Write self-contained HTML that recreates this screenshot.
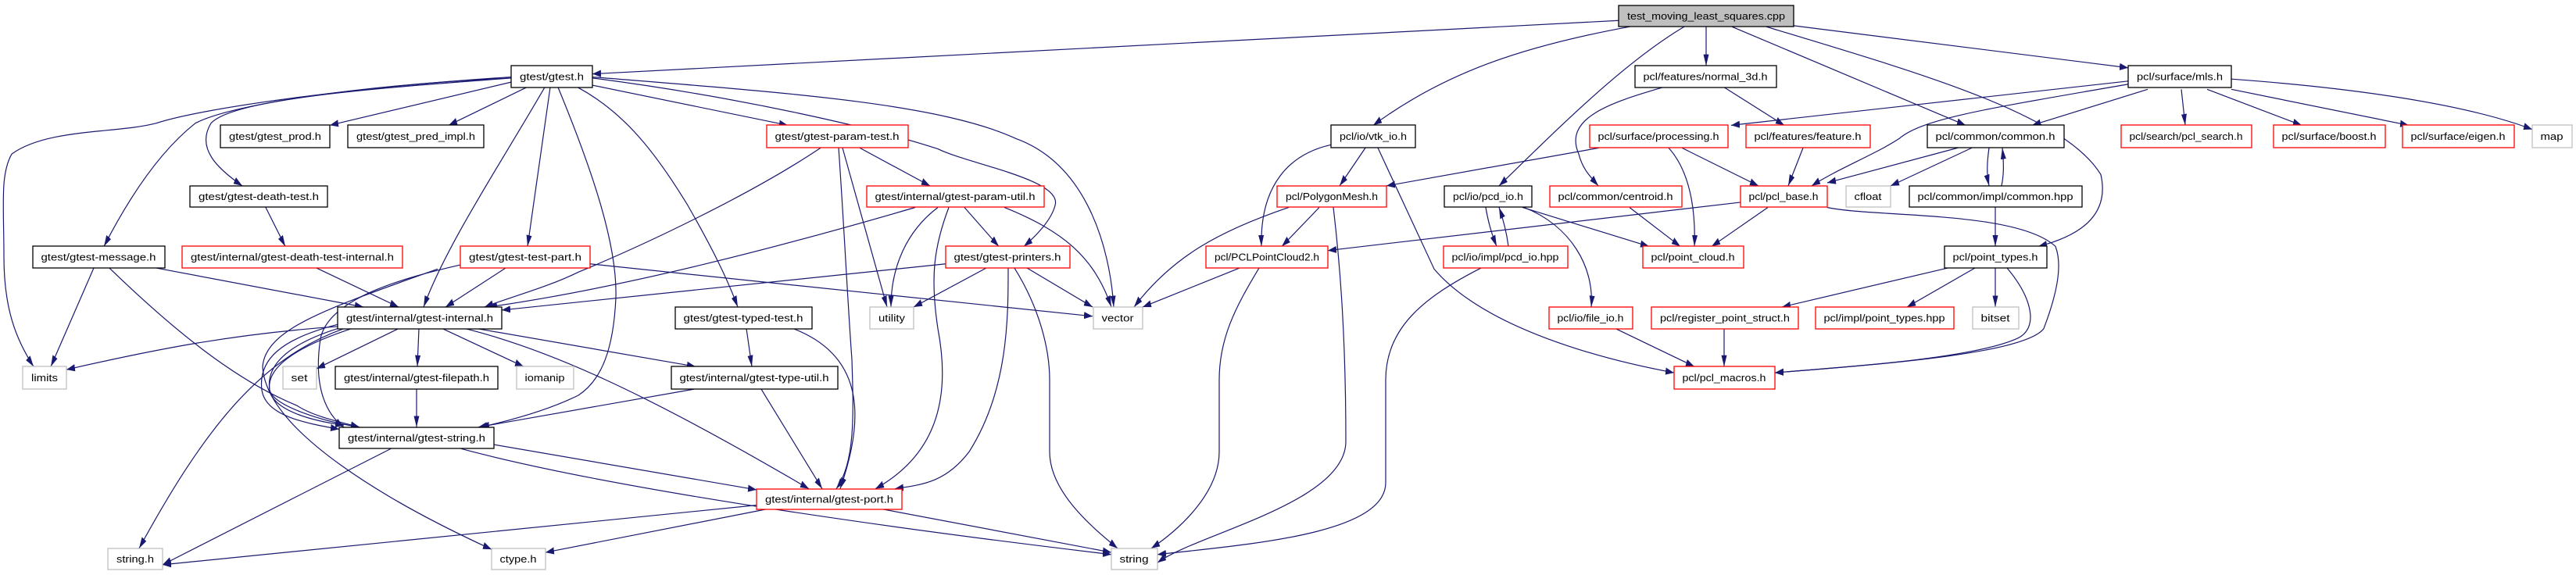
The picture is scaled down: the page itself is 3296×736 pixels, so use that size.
<!DOCTYPE html>
<html><head><meta charset="utf-8"><style>
html,body{margin:0;padding:0;background:#fff;}
svg{display:block;}
text{font-family:"Liberation Sans","DejaVu Sans",sans-serif;font-size:13px;fill:#000;}
.e{fill:none;stroke:#191970;stroke-width:1.2;marker-end:url(#a);vector-effect:non-scaling-stroke;}
.b{fill:#fff;stroke:#000;stroke-width:1.3;}
.r{fill:#fff;stroke:#ff0000;stroke-width:1.3;}
.g{fill:#fff;stroke:#bfbfbf;stroke-width:1.3;}
</style></head><body>
<svg width="3296" height="736" viewBox="0 0 3296 736" xmlns="http://www.w3.org/2000/svg">
<defs><marker id="a" markerUnits="userSpaceOnUse" markerWidth="12" markerHeight="8" refX="11" refY="3.5" orient="auto"><path d="M0,0 L11,3.5 L0,7 z" fill="#191970"/></marker></defs>
<g transform="scale(1,1.3143)">
<path class="e" d="M2071,20 L758,72"/>
<path class="e" d="M2085,26 C1950,45 1850,70 1757,122"/>
<path class="e" d="M2155,26 C2080,60 2000,120 1918,181"/>
<path class="e" d="M2183,26 L2183,64"/>
<path class="e" d="M2216,26 L2515,122"/>
<path class="e" d="M2260,26 C2450,70 2640,110 2688,170 C2700,210 2660,230 2608,240"/>
<path class="e" d="M2295,25 L2723,66"/>
<path class="e" d="M2206,85 L2283,122"/>
<path class="e" d="M2128,85 C2060,100 2000,115 2020,150 C2025,165 2035,172 2045,181"/>
<path class="e" d="M2723,79 L2215,122"/>
<path class="e" d="M2723,82 C2550,105 2460,115 2430,135 C2400,150 2350,165 2318,181"/>
<path class="e" d="M2748,87 L2600,122"/>
<path class="e" d="M2791,87 L2796,122"/>
<path class="e" d="M2824,87 L2945,122"/>
<path class="e" d="M2855,87 L3082,122"/>
<path class="e" d="M2855,77 C3000,85 3150,100 3240,126"/>
<path class="e" d="M2046,144 L1774,181"/>
<path class="e" d="M2135,144 C2160,165 2170,200 2168,240"/>
<path class="e" d="M2152,144 L2250,181"/>
<path class="e" d="M2307,144 L2288,181"/>
<path class="e" d="M2505,144 L2338,178"/>
<path class="e" d="M2523,144 L2419,181"/>
<path class="e" d="M2545,144 C2542,160 2542,170 2545,181"/>
<path class="e" d="M2561,181 C2564,170 2564,160 2562,144"/>
<path class="e" d="M2553,202 L2553,240"/>
<path class="e" d="M2262,202 L2190,240"/>
<path class="e" d="M2227,197 L1699,244"/>
<path class="e" d="M2338,202 C2400,212 2580,205 2630,240 C2640,260 2630,290 2615,320 C2590,345 2400,355 2271,363"/>
<path class="e" d="M2085,202 L2150,240"/>
<path class="e" d="M1948,202 L2110,240"/>
<path class="e" d="M1901,202 C1905,220 1910,230 1915,240"/>
<path class="e" d="M1930,240 C1928,228 1924,215 1918,202"/>
<path class="e" d="M1950,202 C2010,220 2040,260 2036,299"/>
<path class="e" d="M1747,144 L1714,181"/>
<path class="e" d="M1703,141 C1650,150 1612,180 1614,240"/>
<path class="e" d="M1763,144 L1835,262 C1900,320 2050,350 2142,363"/>
<path class="e" d="M1688,202 L1640,240"/>
<path class="e" d="M1649,202 C1560,225 1500,250 1451,299"/>
<path class="e" d="M1706,202 C1715,260 1722,330 1722,430 C1722,490 1530,520 1481,548"/>
<path class="e" d="M1586,261 L1462,299"/>
<path class="e" d="M1611,261 C1580,300 1560,330 1560,370 L1560,440 C1560,480 1510,515 1473,534"/>
<path class="e" d="M1895,261 C1820,290 1773,320 1773,370 L1773,470 C1773,520 1600,530 1481,540"/>
<path class="e" d="M2067,320 L2168,357"/>
<path class="e" d="M2492,261 L2280,299"/>
<path class="e" d="M2527,261 L2440,299"/>
<path class="e" d="M2553,261 L2553,299"/>
<path class="e" d="M2568,261 C2600,290 2610,320 2580,330 C2520,350 2350,358 2271,363"/>
<path class="e" d="M2206,320 L2206,357"/>
<path class="e" d="M654,80 L422,122"/>
<path class="e" d="M674,85 L574,122"/>
<path class="e" d="M654,76 C500,85 300,95 270,120 C250,145 280,165 310,181"/>
<path class="e" d="M654,76 C480,82 300,100 250,120 C200,150 160,200 133,240"/>
<path class="e" d="M654,75 C450,85 260,105 200,120 C150,130 60,125 15,150 C0,170 5,200 5,250 C5,300 20,330 43,357"/>
<path class="e" d="M697,85 C640,160 570,240 542,299"/>
<path class="e" d="M704,85 L675,240"/>
<path class="e" d="M714,85 C760,170 790,240 788,290 C785,340 770,370 740,385 C700,400 650,410 615,416"/>
<path class="e" d="M739,85 C800,110 840,150 880,200 C910,240 930,270 944,299"/>
<path class="e" d="M758,83 L1008,122"/>
<path class="e" d="M758,76 C950,95 1120,125 1200,145 C1240,160 1360,175 1350,200 C1345,215 1325,230 1310,240"/>
<path class="e" d="M758,75 C1000,90 1200,100 1300,135 C1390,160 1420,240 1425,299"/>
<path class="e" d="M1050,144 C960,190 820,240 740,265 C700,280 650,290 620,299"/>
<path class="e" d="M1078,144 L1135,299"/>
<path class="e" d="M1073,144 C1080,220 1085,300 1090,350 C1092,400 1095,450 1070,476"/>
<path class="e" d="M1100,144 L1190,181"/>
<path class="e" d="M1171,202 C1000,240 800,280 625,299"/>
<path class="e" d="M1200,202 C1160,225 1140,260 1140,299"/>
<path class="e" d="M1214,202 C1195,240 1190,270 1200,320 C1215,380 1205,440 1120,476"/>
<path class="e" d="M1234,202 L1278,240"/>
<path class="e" d="M1285,202 C1360,225 1400,250 1422,299"/>
<path class="e" d="M1210,257 L642,302"/>
<path class="e" d="M1262,261 L1169,299"/>
<path class="e" d="M1314,261 L1398,299"/>
<path class="e" d="M1298,261 C1330,300 1343,340 1343,370 L1343,440 C1343,480 1400,515 1430,534"/>
<path class="e" d="M1290,261 C1290,310 1290,380 1240,440 C1210,470 1180,472 1145,476"/>
<path class="e" d="M647,261 L570,299"/>
<path class="e" d="M755,257 L1398,308"/>
<path class="e" d="M589,258 C520,270 420,290 410,330 C400,380 420,405 440,416"/>
<path class="e" d="M560,262 C420,300 340,320 336,357 C340,420 500,490 629,535"/>
<path class="e" d="M200,261 L465,299"/>
<path class="e" d="M120,261 L65,357"/>
<path class="e" d="M140,261 C220,320 300,370 380,395 C400,405 430,410 460,416"/>
<path class="e" d="M340,202 L365,240"/>
<path class="e" d="M405,261 L510,299"/>
<path class="e" d="M432,318 C300,325 200,340 85,360"/>
<path class="e" d="M510,320 L405,359"/>
<path class="e" d="M536,320 L534,357"/>
<path class="e" d="M566,320 L670,357"/>
<path class="e" d="M610,320 L890,357"/>
<path class="e" d="M595,320 C700,340 820,380 1035,476"/>
<path class="e" d="M432,316 C360,330 330,350 335,380 C340,405 390,412 434,418"/>
<path class="e" d="M432,320 C370,335 340,355 345,380 C350,400 400,410 440,414"/>
<path class="e" d="M450,320 C390,335 340,355 345,380 C350,395 410,410 460,416"/>
<path class="e" d="M440,320 C330,350 260,420 178,534"/>
<path class="e" d="M533,379 L533,416"/>
<path class="e" d="M955,320 L962,357"/>
<path class="e" d="M1015,320 C1100,345 1110,400 1075,476"/>
<path class="e" d="M888,379 L612,416"/>
<path class="e" d="M974,379 L1052,476"/>
<path class="e" d="M632,433 L968,477"/>
<path class="e" d="M500,437 L208,550"/>
<path class="e" d="M590,437 C800,480 1200,520 1422,540"/>
<path class="e" d="M968,492 L208,550"/>
<path class="e" d="M980,496 L698,538"/>
<path class="e" d="M1130,496 L1422,538"/>
</g>
<!-- nodes -->
<rect x="2071" y="7" width="224" height="27" fill="#bfbfbf" stroke="#000" stroke-width="1.3"/><text x="2183" y="25" text-anchor="middle" textLength="202" lengthAdjust="spacingAndGlyphs">test_moving_least_squares.cpp</text>
<rect class="b" x="654" y="84" width="104" height="28"/><text x="706" y="102.5" text-anchor="middle" textLength="82" lengthAdjust="spacingAndGlyphs">gtest/gtest.h</text>
<rect class="b" x="2092" y="84" width="181" height="28"/><text x="2182" y="102.5" text-anchor="middle" textLength="159" lengthAdjust="spacingAndGlyphs">pcl/features/normal_3d.h</text>
<rect class="b" x="2723" y="84" width="132" height="28"/><text x="2789" y="102.5" text-anchor="middle" textLength="110" lengthAdjust="spacingAndGlyphs">pcl/surface/mls.h</text>
<rect class="b" x="282" y="160" width="140" height="29"/><text x="352" y="179" text-anchor="middle" textLength="118" lengthAdjust="spacingAndGlyphs">gtest/gtest_prod.h</text>
<rect class="b" x="445" y="160" width="174" height="29"/><text x="532" y="179" text-anchor="middle" textLength="152" lengthAdjust="spacingAndGlyphs">gtest/gtest_pred_impl.h</text>
<rect class="r" x="981" y="160" width="181" height="29"/><text x="1071" y="179" text-anchor="middle" textLength="159" lengthAdjust="spacingAndGlyphs">gtest/gtest-param-test.h</text>
<rect class="b" x="1703" y="160" width="108" height="29"/><text x="1757" y="179" text-anchor="middle" textLength="86" lengthAdjust="spacingAndGlyphs">pcl/io/vtk_io.h</text>
<rect class="r" x="2034" y="160" width="177" height="29"/><text x="2122" y="179" text-anchor="middle" textLength="155" lengthAdjust="spacingAndGlyphs">pcl/surface/processing.h</text>
<rect class="r" x="2234" y="160" width="159" height="29"/><text x="2313" y="179" text-anchor="middle" textLength="137" lengthAdjust="spacingAndGlyphs">pcl/features/feature.h</text>
<rect class="b" x="2466" y="160" width="175" height="29"/><text x="2553" y="179" text-anchor="middle" textLength="153" lengthAdjust="spacingAndGlyphs">pcl/common/common.h</text>
<rect class="r" x="2714" y="160" width="167" height="29"/><text x="2797" y="179" text-anchor="middle" textLength="145" lengthAdjust="spacingAndGlyphs">pcl/search/pcl_search.h</text>
<rect class="r" x="2909" y="160" width="143" height="29"/><text x="2980" y="179" text-anchor="middle" textLength="121" lengthAdjust="spacingAndGlyphs">pcl/surface/boost.h</text>
<rect class="r" x="3074" y="160" width="143" height="29"/><text x="3145" y="179" text-anchor="middle" textLength="121" lengthAdjust="spacingAndGlyphs">pcl/surface/eigen.h</text>
<rect class="g" x="3240" y="160" width="51" height="29"/><text x="3265" y="179" text-anchor="middle" textLength="29" lengthAdjust="spacingAndGlyphs">map</text>
<rect class="b" x="243" y="238" width="176" height="27"/><text x="331" y="256" text-anchor="middle" textLength="154" lengthAdjust="spacingAndGlyphs">gtest/gtest-death-test.h</text>
<rect class="r" x="1109" y="238" width="227" height="27"/><text x="1222" y="256" text-anchor="middle" textLength="205" lengthAdjust="spacingAndGlyphs">gtest/internal/gtest-param-util.h</text>
<rect class="r" x="1634" y="238" width="140" height="27"/><text x="1704" y="256" text-anchor="middle" textLength="118" lengthAdjust="spacingAndGlyphs">pcl/PolygonMesh.h</text>
<rect class="b" x="1848" y="238" width="112" height="27"/><text x="1904" y="256" text-anchor="middle" textLength="90" lengthAdjust="spacingAndGlyphs">pcl/io/pcd_io.h</text>
<rect class="r" x="1983" y="238" width="169" height="27"/><text x="2067" y="256" text-anchor="middle" textLength="147" lengthAdjust="spacingAndGlyphs">pcl/common/centroid.h</text>
<rect class="r" x="2227" y="238" width="111" height="27"/><text x="2282" y="256" text-anchor="middle" textLength="89" lengthAdjust="spacingAndGlyphs">pcl/pcl_base.h</text>
<rect class="g" x="2362" y="238" width="57" height="27"/><text x="2390" y="256" text-anchor="middle" textLength="35" lengthAdjust="spacingAndGlyphs">cfloat</text>
<rect class="b" x="2443" y="238" width="221" height="27"/><text x="2553" y="256" text-anchor="middle" textLength="199" lengthAdjust="spacingAndGlyphs">pcl/common/impl/common.hpp</text>
<rect class="b" x="42" y="315" width="169" height="28"/><text x="126" y="333.5" text-anchor="middle" textLength="147" lengthAdjust="spacingAndGlyphs">gtest/gtest-message.h</text>
<rect class="r" x="233" y="315" width="282" height="28"/><text x="374" y="333.5" text-anchor="middle" textLength="260" lengthAdjust="spacingAndGlyphs">gtest/internal/gtest-death-test-internal.h</text>
<rect class="r" x="589" y="315" width="166" height="28"/><text x="672" y="333.5" text-anchor="middle" textLength="144" lengthAdjust="spacingAndGlyphs">gtest/gtest-test-part.h</text>
<rect class="r" x="1210" y="315" width="159" height="28"/><text x="1289" y="333.5" text-anchor="middle" textLength="137" lengthAdjust="spacingAndGlyphs">gtest/gtest-printers.h</text>
<rect class="r" x="1543" y="315" width="156" height="28"/><text x="1621" y="333.5" text-anchor="middle" textLength="134" lengthAdjust="spacingAndGlyphs">pcl/PCLPointCloud2.h</text>
<rect class="r" x="1847" y="315" width="159" height="28"/><text x="1926" y="333.5" text-anchor="middle" textLength="137" lengthAdjust="spacingAndGlyphs">pcl/io/impl/pcd_io.hpp</text>
<rect class="r" x="2102" y="315" width="129" height="28"/><text x="2166" y="333.5" text-anchor="middle" textLength="107" lengthAdjust="spacingAndGlyphs">pcl/point_cloud.h</text>
<rect class="b" x="2488" y="315" width="131" height="28"/><text x="2553" y="333.5" text-anchor="middle" textLength="109" lengthAdjust="spacingAndGlyphs">pcl/point_types.h</text>
<rect class="b" x="432" y="393" width="210" height="28"/><text x="537" y="411.5" text-anchor="middle" textLength="188" lengthAdjust="spacingAndGlyphs">gtest/internal/gtest-internal.h</text>
<rect class="b" x="864" y="393" width="175" height="28"/><text x="951" y="411.5" text-anchor="middle" textLength="153" lengthAdjust="spacingAndGlyphs">gtest/gtest-typed-test.h</text>
<rect class="g" x="1113" y="393" width="56" height="28"/><text x="1141" y="411.5" text-anchor="middle" textLength="34" lengthAdjust="spacingAndGlyphs">utility</text>
<rect class="g" x="1399" y="393" width="63" height="28"/><text x="1430" y="411.5" text-anchor="middle" textLength="41" lengthAdjust="spacingAndGlyphs">vector</text>
<rect class="r" x="1982" y="393" width="107" height="28"/><text x="2035" y="411.5" text-anchor="middle" textLength="85" lengthAdjust="spacingAndGlyphs">pcl/io/file_io.h</text>
<rect class="r" x="2113" y="393" width="188" height="28"/><text x="2207" y="411.5" text-anchor="middle" textLength="166" lengthAdjust="spacingAndGlyphs">pcl/register_point_struct.h</text>
<rect class="r" x="2323" y="393" width="177" height="28"/><text x="2411" y="411.5" text-anchor="middle" textLength="155" lengthAdjust="spacingAndGlyphs">pcl/impl/point_types.hpp</text>
<rect class="g" x="2524" y="393" width="59" height="28"/><text x="2553" y="411.5" text-anchor="middle" textLength="37" lengthAdjust="spacingAndGlyphs">bitset</text>
<rect class="g" x="29" y="469" width="56" height="29"/><text x="57" y="488" text-anchor="middle" textLength="34" lengthAdjust="spacingAndGlyphs">limits</text>
<rect class="g" x="362" y="469" width="43" height="29"/><text x="383" y="488" text-anchor="middle" textLength="21" lengthAdjust="spacingAndGlyphs">set</text>
<rect class="b" x="429" y="469" width="208" height="29"/><text x="533" y="488" text-anchor="middle" textLength="186" lengthAdjust="spacingAndGlyphs">gtest/internal/gtest-filepath.h</text>
<rect class="g" x="661" y="469" width="73" height="29"/><text x="697" y="488" text-anchor="middle" textLength="51" lengthAdjust="spacingAndGlyphs">iomanip</text>
<rect class="b" x="859" y="469" width="213" height="29"/><text x="965" y="488" text-anchor="middle" textLength="191" lengthAdjust="spacingAndGlyphs">gtest/internal/gtest-type-util.h</text>
<rect class="r" x="2142" y="469" width="129" height="29"/><text x="2206" y="488" text-anchor="middle" textLength="107" lengthAdjust="spacingAndGlyphs">pcl/pcl_macros.h</text>
<rect class="b" x="434" y="547" width="198" height="27"/><text x="533" y="565" text-anchor="middle" textLength="176" lengthAdjust="spacingAndGlyphs">gtest/internal/gtest-string.h</text>
<rect class="r" x="968" y="626" width="186" height="26"/><text x="1061" y="643.5" text-anchor="middle" textLength="164" lengthAdjust="spacingAndGlyphs">gtest/internal/gtest-port.h</text>
<rect class="g" x="138" y="702" width="70" height="27"/><text x="173" y="720" text-anchor="middle" textLength="48" lengthAdjust="spacingAndGlyphs">string.h</text>
<rect class="g" x="629" y="702" width="69" height="27"/><text x="663" y="720" text-anchor="middle" textLength="47" lengthAdjust="spacingAndGlyphs">ctype.h</text>
<rect class="g" x="1422" y="702" width="59" height="27"/><text x="1451" y="720" text-anchor="middle" textLength="37" lengthAdjust="spacingAndGlyphs">string</text>
</svg>
</body></html>
